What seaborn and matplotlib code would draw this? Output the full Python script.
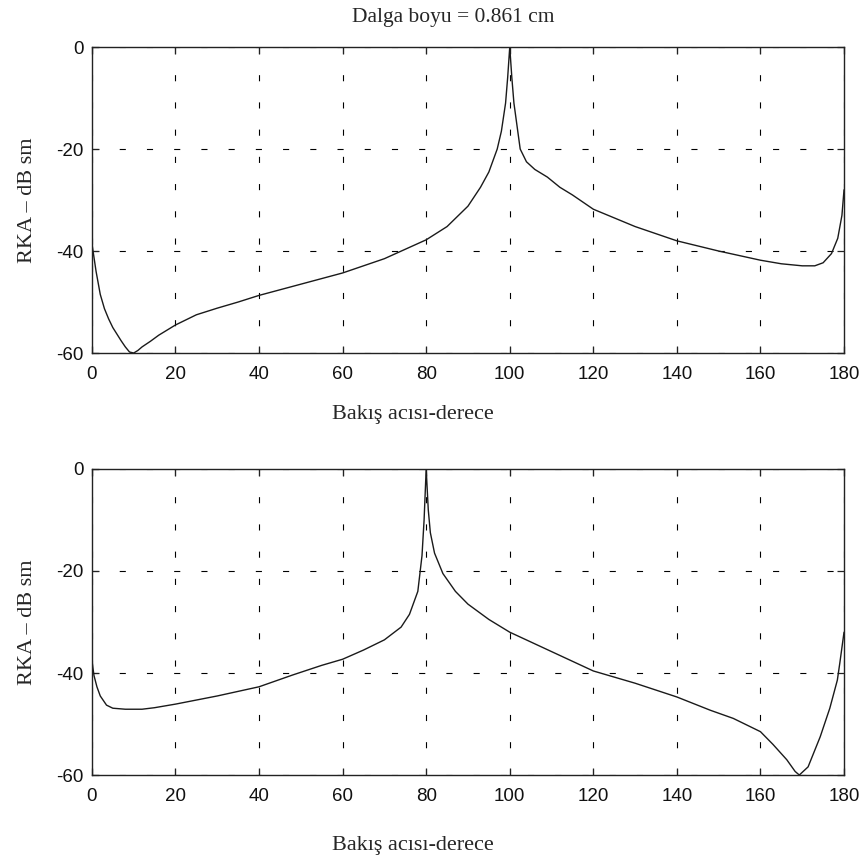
import matplotlib
matplotlib.use("Agg")
import matplotlib.pyplot as plt
import pandas as pd
import seaborn as sns

# angle (degrees) and RCS (dB sm)
top_angle = [0, 1, 2, 3, 4, 5, 6, 7, 8, 9, 10, 11, 12, 14, 16, 18, 20, 25, 30, 35,
             40, 50, 60, 70, 80, 85, 90, 93, 95, 97, 98, 99, 99.5, 100, 100.5, 101,
             102, 102.5, 104, 106, 109, 112, 115, 120, 130, 140, 150, 160, 165, 170,
             173, 175, 177, 178.5, 179.5, 180]
top_rcs = [-38.5, -44, -48.5, -51.3, -53.3, -55, -56.3, -57.6, -58.8, -59.8, -60, -59.5,
           -58.8, -57.7, -56.5, -55.5, -54.5, -52.5, -51.2, -50, -48.7, -46.5, -44.3,
           -41.5, -37.8, -35.2, -31.2, -27.5, -24.5, -20, -16.5, -11, -6, 0, -6, -11,
           -17, -20, -22.5, -24, -25.5, -27.5, -29, -31.8, -35.2, -38, -40, -41.8,
           -42.5, -42.9, -42.9, -42.3, -40.5, -37.5, -33, -28]

bottom_angle = [0, 0.5, 1.2, 2, 3.5, 5, 8, 12, 15, 20, 30, 40, 48, 55, 60, 65, 70, 74,
                76, 78, 79, 79.5, 80, 80.5, 81, 82, 84, 87, 90, 95, 100, 110, 120, 130,
                140, 148, 153.5, 160, 163, 166.3, 168.3, 169.3, 171.4, 174.3, 176.6,
                178.4, 179, 180]
bottom_rcs = [-37.5, -40.5, -42.7, -44.5, -46.3, -46.9, -47.1, -47.1, -46.8, -46.1,
              -44.5, -42.7, -40.4, -38.5, -37.3, -35.5, -33.5, -31, -28.5, -24, -17,
              -10, 0, -8, -12.5, -16.5, -20.5, -24, -26.5, -29.5, -32, -35.8, -39.6,
              -42, -44.7, -47.3, -48.9, -51.5, -54, -57, -59.3, -60, -58.4, -52.5,
              -46.9, -41.4, -38, -32]

x_ticks = [0, 20, 40, 60, 80, 100, 120, 140, 160, 180]
y_ticks = [-60, -40, -20, 0]

sns.set_theme(style="ticks", rc={"xtick.direction": "in", "ytick.direction": "in"})
plt.rcParams["font.family"] = ["Liberation Sans", "DejaVu Sans"]
plt.rcParams["axes.unicode_minus"] = False

SERIF = ["Liberation Serif", "DejaVu Serif"]


def draw_panel(ax, angle, rcs, xlabel_y, title=None):
    df = pd.DataFrame({"angle": angle, "rcs": rcs})
    sns.lineplot(data=df, x="angle", y="rcs", estimator=None, color="#1a1a1a",
                 linewidth=1.0, ax=ax)
    ax.set_xlim(0, 180)
    ax.set_ylim(-60, 0)
    ax.set_xticks(x_ticks)
    ax.set_yticks(y_ticks)
    ax.grid(True, color="black", linestyle=(0, (5.5, 19)), linewidth=0.8)
    for side in ax.spines.values():
        side.set_visible(True)
        side.set_color("#222222")
        side.set_linewidth(1.0)
    ax.tick_params(top=True, right=True, length=5, width=0.9, color="#222222",
                   labelcolor="#111111", labelsize=13.5)
    ax.tick_params(axis="x", pad=9)
    ax.tick_params(axis="y", pad=6)
    ax.set_xlabel("Bakış acısı-derece", fontsize=16, family=SERIF)
    ax.xaxis.set_label_coords(0.427, xlabel_y)
    ax.set_ylabel("RKA – dB sm", fontsize=16, family=SERIF, labelpad=14)
    if title:
        ax.set_title(title, fontsize=15.5, family=SERIF, pad=18, x=0.48)


fig = plt.figure(figsize=(8.67, 8.6), dpi=100)
ax_top = fig.add_axes([0.106, 0.5895, 0.8675, 0.3558])
ax_bottom = fig.add_axes([0.106, 0.0988, 0.8675, 0.3559])

draw_panel(ax_top, top_angle, top_rcs, -0.17, title="Dalga boyu = 0.861 cm")
draw_panel(ax_bottom, bottom_angle, bottom_rcs, -0.2)

fig.savefig("out.png", dpi=100)
plt.close(fig)
